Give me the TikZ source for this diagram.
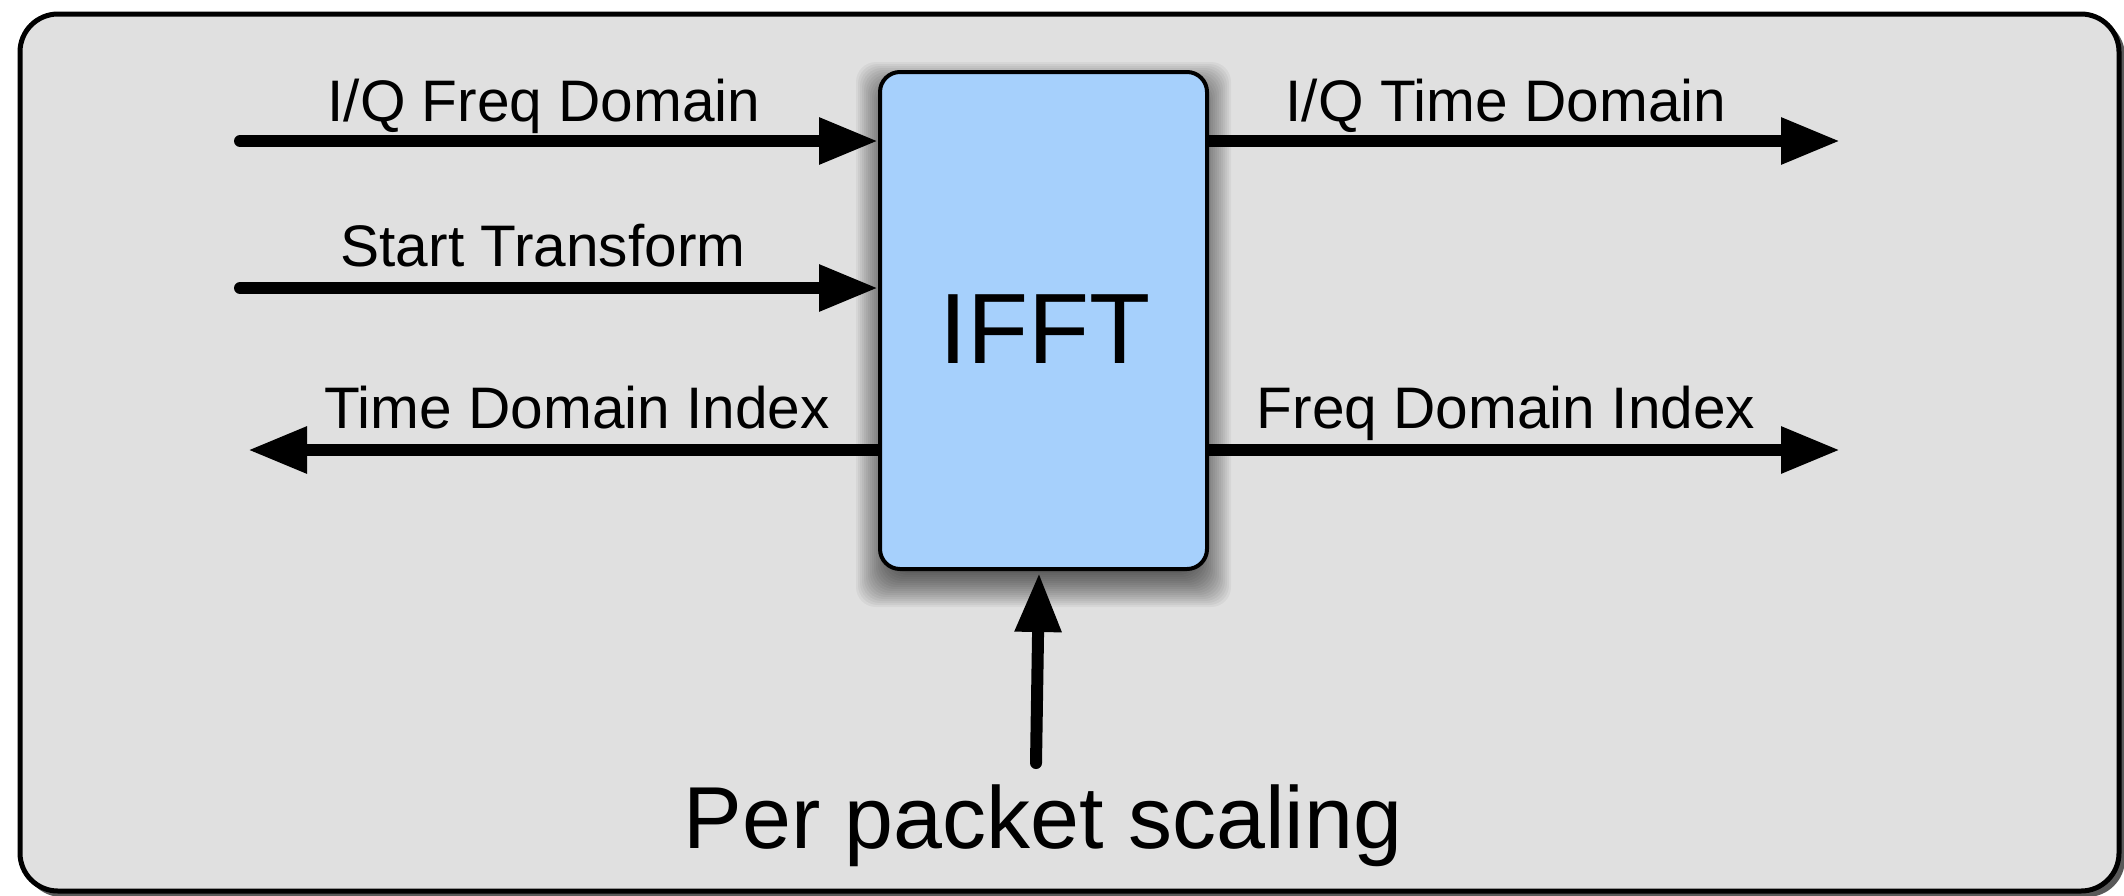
\documentclass[tikz,border=0pt]{standalone}
\usepackage{fontspec}
\setmainfont{Liberation Sans}
\usetikzlibrary{arrows.meta}
\definecolor{panelgray}{HTML}{E0E0E0}
\definecolor{boxblue}{HTML}{A6D0FC}
\begin{document}
\begin{tikzpicture}[x=0.5pt,y=-0.5pt,
  arr/.style={line width=6pt, -{Triangle[length=29.5pt,width=22pt]}, line cap=round},
  outarr/.style={arr, line cap=butt},
  lbl/.style={anchor=base, inner sep=0pt, font=\fontsize{29.3}{34}\selectfont},
  blockbox/.style={draw=black, line width=2pt, fill=boxblue, rounded corners=10pt,
    minimum width=163.5pt, minimum height=248.5pt, inner sep=0pt},
]
\useasboundingbox (0,0) rectangle (2124,895);
% outer panel
\fill[black!65, rounded corners=19pt] (24,18) rectangle (2125,897);
\draw[line width=2.5pt, fill=panelgray, rounded corners=19pt] (20,14) rectangle (2119,891);
% box shadow
\foreach \s in {-10,-8,...,24}
  \fill[black, opacity=0.042, rounded corners=10pt] (880-\s,86-\s) rectangle (1207+\s,583+\s);
% IFFT block
\node[blockbox] (fft) at (1043.5,320.5) {};
\node[anchor=base, inner sep=0pt, font=\fontsize{50}{60}\selectfont] (fftlbl) at (1045,363) {IFFT};
% coordinates
\coordinate (a1) at (240,141);
\coordinate (a2) at (240,288);
\coordinate (a3) at (248,450);
\coordinate (b1) at (1840,141);
\coordinate (b2) at (1840,450);
\coordinate (pstart) at (1036,763);
\coordinate (pend) at (1039,573);
% connectors
\draw[arr] (a1) -- (fft.west |- a1);
\draw[arr] (a2) -- (fft.west |- a2);
\draw[outarr] (fft.west |- a3) -- (a3);
\draw[outarr] (fft.east |- b1) -- (b1);
\draw[outarr] (fft.east |- b2) -- (b2);
\draw[arr] (pstart) -- (pend);
% labels
\node[lbl] (l1) at (544,121) {I/Q Freq Domain};
\node[lbl] (l2) at (543,266) {Start Transform};
\node[lbl] (l3) at (577,428) {Time Domain Index};
\node[lbl] (r1) at (1506,121) {I/Q Time Domain};
\node[lbl] (r2) at (1506,428) {Freq Domain Index};
\node[anchor=base, inner sep=0pt, font=\fontsize{44}{52}\selectfont] (pps) at (1043,848) {Per packet scaling};
\end{tikzpicture}
\end{document}
